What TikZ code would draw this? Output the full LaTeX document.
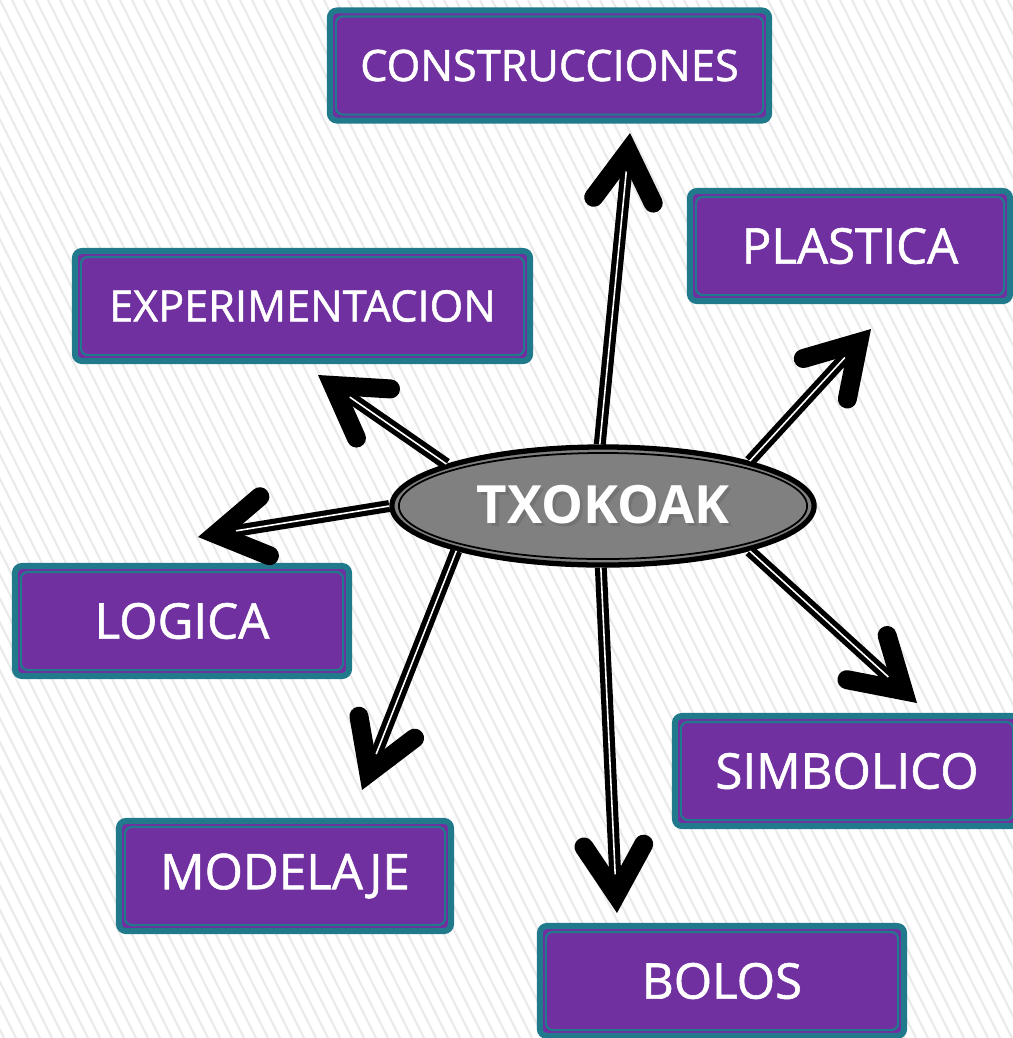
\documentclass[tikz,border=0pt]{standalone}
\usepackage{fontspec}
\setmainfont{Open Sans}
\newfontfamily\labelfont{Open Sans}[FakeBold=1.2]
\usetikzlibrary{arrows.meta,shapes.geometric}
\definecolor{boxpurple}{HTML}{7030A0}
\definecolor{boxteal}{HTML}{217A8C}
\definecolor{hubgray}{HTML}{808080}
\definecolor{stripe}{HTML}{EAEAEA}
\newcommand\hubtext[1]{\rlap{\textcolor{black!55}{\hspace{1pt}\raisebox{-1pt}{#1}}}#1}

\begin{document}
\begin{tikzpicture}[x=0.01cm, y=-0.01cm,
  box/.style={rectangle, rounded corners=2pt, draw=boxteal, line width=1.7pt,
    fill=boxpurple, text=white, minimum height=1.1cm, inner sep=0pt,
    font=\labelfont\fontsize{14}{16}\selectfont,
    path picture={\draw[boxteal, line width=0.6pt]
      ([shift={(1.7pt,-1.7pt)}]path picture bounding box.north west) rectangle
      ([shift={(-1.7pt,1.7pt)}]path picture bounding box.south east);}},
  smallbox/.style={box, font=\labelfont\fontsize{12.3}{14}\selectfont},
  hub/.style={ellipse, draw, line width=1.5pt, fill=hubgray, text=white,
    minimum width=4.22cm, minimum height=1.18cm, inner sep=0pt,
    font=\bfseries\fontsize{15}{16}\selectfont,
    path picture={\draw[line width=0.5pt] (path picture bounding box.center)
      ellipse [x radius=2.04cm, y radius=0.53cm];}},
  conn/.style={line width=3.4pt, line cap=butt,
    -{Straight Barb[length=14pt, width=17pt, line width=5.4pt, line cap=round, line join=miter]},
    postaction={draw=white, line width=0.45pt, -, shorten >=11pt}}]

\useasboundingbox (0,0) rectangle (1013,1038);
\clip (0,0) rectangle (1013,1038);

% background stripes
\foreach \x in {-540,-528,...,1020}
  \draw[stripe, line width=0.6pt] (\x,0) -- (\x+520,1038);

% center
\node (txo) [hub] at (603,506) {\hubtext{TXOKOAK}};

% boxes
\node (cons) [smallbox, minimum width=4.39cm] at (549.5,65.5) {CONSTRUCCIONES};
\node (plas) [box, minimum width=3.20cm] at (850,246) {PLASTICA};
\node (expe) [smallbox, minimum width=4.55cm] at (302.5,306) {EXPERIMENTACION};
\node (logi) [box, minimum width=3.34cm] at (182,621) {LOGICA};
\node (simb) [box, minimum width=3.44cm] at (847,771) {SIMBOLICO};
\node (mode) [box, minimum width=3.32cm] at (285,876) {MODELAJE};
\node (bolo) [box, minimum width=3.64cm] at (722,981) {BOLOS};

% arrow tips
\coordinate (tcons) at (630,133);
\coordinate (tplas) at (871,329);
\coordinate (texpe) at (318,375);
\coordinate (tlogi) at (198,537);
\coordinate (tmode) at (362,790);
\coordinate (tbolo) at (617,913);
\coordinate (tsimb) at (917,703);

\draw[conn] (txo.93) -- (tcons);
\draw[conn] (txo.17) -- (tplas);
\draw[conn] (txo.165) -- (texpe);
\draw[conn] (txo.180) -- (tlogi);
\draw[conn] (txo.197) -- (tmode);
\draw[conn] (txo.268) -- (tbolo);
\draw[conn] (txo.343) -- (tsimb);

\end{tikzpicture}
\end{document}
